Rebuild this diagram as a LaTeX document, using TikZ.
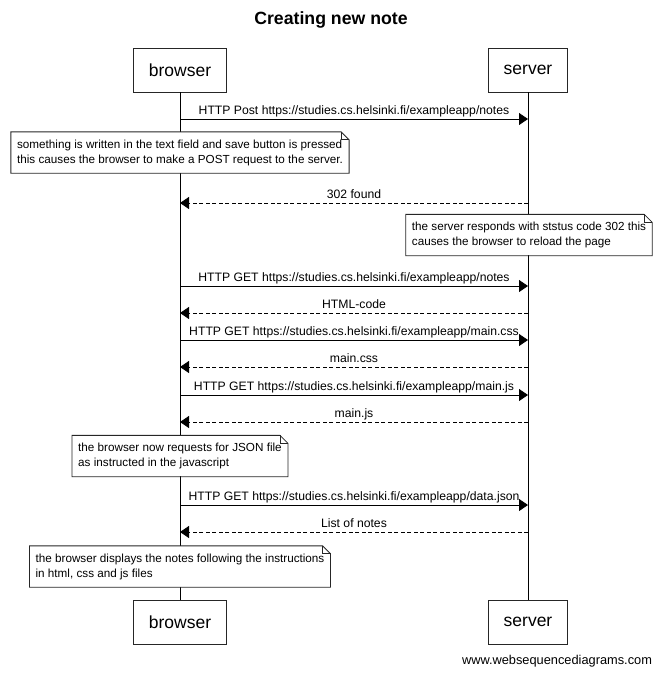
\documentclass[tikz,border=0pt]{standalone}
\usepackage{fontspec}
\setmainfont{Liberation Sans}
\usetikzlibrary{arrows.meta}
\newcommand\wsdnote[1]{%
  \draw[noteline] (#1.north west) -- ([xshift=-8pt]#1.north east) -- ([yshift=-8pt]#1.north east) -- (#1.south east) -- (#1.south west) -- cycle;
  \draw[noteline] ([xshift=-8pt]#1.north east) |- ([yshift=-8pt]#1.north east);
}
\begin{document}
\begin{tikzpicture}[x=1pt,y=-1pt,
  actor/.style={draw=black!85, line width=0.8pt, fill=white, minimum height=44pt, inner xsep=15pt, font=\fontsize{17.5}{20}\selectfont},
  life/.style={draw=black, line width=0.9pt},
  note/.style={fill=white, align=left, inner xsep=6pt, inner ysep=7.5pt, font=\fontsize{11.7}{15}\selectfont},
  noteline/.style={draw=black!85, line width=0.8pt},
  msg/.style={draw=black, line width=0.9pt, -{Triangle[length=9pt,width=12pt]}},
  reply/.style={msg, dash pattern=on 4pt off 2.5pt},
  lbl/.style={midway, anchor=base, yshift=5pt, inner sep=0pt, font=\fontsize{12.2}{14}\selectfont}
]
\useasboundingbox (0,0) rectangle (661,675);
\node[font=\fontsize{17.7}{20}\selectfont\bfseries] (title) at (331,20) {Creating new note};

\node[actor] (b1) at (180,70) {browser};
\node[actor] (s1) at (528,70) {server};
\node[actor] (b2) at (180,622) {browser};
\node[actor] (s2) at (528,622) {server};
\draw[life] (b1.south) -- (b2.north);
\draw[life] (s1.south) -- (s2.north);

% lifeline points
\foreach \n/\y in {1/119,2/203,3/286,4/313,5/340,6/367,7/395,8/422,9/505,10/532}{
  \coordinate (B\n) at (180,\y);
  \coordinate (S\n) at (528,\y);
}

\draw[msg] (B1) -- node[lbl] {HTTP Post https://studies.cs.helsinki.fi/exampleapp/notes} (S1);

\node[note] (n1) at (180,152.5) {something is written in the text field and save button is pressed\\this causes the browser to make a POST request to the server.};
\wsdnote{n1}

\draw[reply] (S2) -- node[lbl] {302 found} (B2);

\node[note] (n2) at (529,235) {the server responds with ststus code 302 this\\causes the browser to reload the page};
\wsdnote{n2}

\draw[msg] (B3) -- node[lbl] {HTTP GET https://studies.cs.helsinki.fi/exampleapp/notes} (S3);
\draw[reply] (S4) -- node[lbl] {HTML-code} (B4);
\draw[msg] (B5) -- node[lbl] {HTTP GET https://studies.cs.helsinki.fi/exampleapp/main.css} (S5);
\draw[reply] (S6) -- node[lbl] {main.css} (B6);
\draw[msg] (B7) -- node[lbl] {HTTP GET https://studies.cs.helsinki.fi/exampleapp/main.js} (S7);
\draw[reply] (S8) -- node[lbl] {main.js} (B8);

\node[note] (n3) at (180,456) {the browser now requests for JSON file\\as instructed in the javascript};
\wsdnote{n3}

\draw[msg] (B9) -- node[lbl] {HTTP GET https://studies.cs.helsinki.fi/exampleapp/data.json} (S9);
\draw[reply] (S10) -- node[lbl] {List of notes} (B10);

\node[note] (n4) at (180,566.5) {the browser displays the notes following the instructions\\in html, css and js files};
\wsdnote{n4}

\node[font=\fontsize{12.8}{14}\selectfont] (footer) at (557,661) {www.websequencediagrams.com};
\end{tikzpicture}
\end{document}
